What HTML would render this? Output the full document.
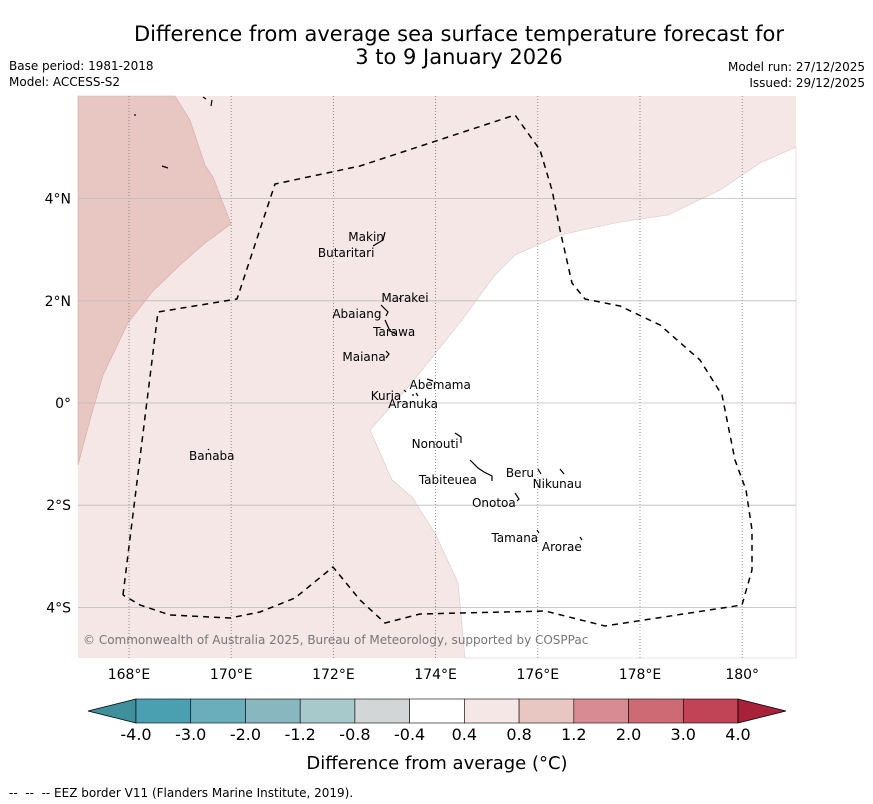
<!DOCTYPE html>
<html><head><meta charset="utf-8"><style>
body{margin:0;background:#fff;width:873px;height:804px;overflow:hidden;font-family:"DejaVu Sans","Liberation Sans",sans-serif}
svg{position:absolute;left:0;top:0}
</style></head><body>
<svg id="c" width="873" height="804" font-family="DejaVu Sans, Liberation Sans, sans-serif">
<text x="459" y="41" text-anchor="middle" font-size="21">Difference from average sea surface temperature forecast for</text>
<text x="459" y="64" text-anchor="middle" font-size="21">3 to 9 January 2026</text>
<text x="9" y="70" font-size="12">Base period: 1981-2018</text>
<text x="9" y="86" font-size="12">Model: ACCESS-S2</text>
<text x="865" y="71" font-size="12" text-anchor="end">Model run: 27/12/2025</text>
<text x="865" y="87" font-size="12" text-anchor="end">Issued: 29/12/2025</text>
<g id="map"></g>
<g id="cb"></g>
<text x="437" y="769" text-anchor="middle" font-size="18">Difference from average (°C)</text>
<text x="9" y="797" font-size="12" xml:space="preserve">--  --  -- EEZ border V11 (Flanders Marine Institute, 2019).</text>
</svg>
<script>
const lonTicks=[168,170,172,174,176,178,180];
const lonLabels=["168°E","170°E","172°E","174°E","176°E","178°E","180°"];
const latTicks=[4,2,0,-2,-4];
const latLabels=["4°N","2°N","0°","2°S","4°S"];
const cbLevels=["-4.0","-3.0","-2.0","-1.2","-0.8","-0.4","0.4","0.8","1.2","2.0","3.0","4.0"];
const cbColors=["#3f8f9c","#4aa0b1","#6aadbb","#88b7c0","#a8c9cc","#d3d6d7","#ffffff","#f4e7e6","#e8c7c2","#d98b93","#cd6a74","#c04455","#a8203a"];
const islands=[["Makin",172.64,3.17],["Butaritari",172.25,2.86],["Marakei",173.40,1.98],["Abaiang",172.46,1.66],["Tarawa",173.19,1.31],["Maiana",172.60,0.82],["Abemama",174.09,0.27],["Kuria",173.03,0.06],["Aranuka",173.56,-0.10],["Nonouti",173.99,-0.88],["Tabiteuea",174.24,-1.59],["Beru",175.65,-1.45],["Nikunau",176.38,-1.66],["Onotoa",175.14,-2.04],["Tamana",175.55,-2.72],["Arorae",176.47,-2.90],["Banaba",169.62,-1.12]];
const NS="http://www.w3.org/2000/svg";
const L=78,R=796,T=96,B=658;
const x=lon=>129+(lon-168)*51.1;
const y=lat=>403-lat*51.1;
function mk(p,t,a){const e=document.createElementNS(NS,t);for(const k in a)e.setAttribute(k,a[k]);p.appendChild(e);return e;}
const map=document.getElementById('map');
let e=mk(map,'rect',{x:L,y:T,width:R-L,height:B-T,fill:'#f4e7e6'});


e=mk(map,'polygon',{points:"465,658 458,583 436,535 412,497 392,480 370,430 410,385 462,320 495,275 515,255 560,235 620,222 668,215 720,190 760,163 796,147 796,658",fill:'#fff',stroke:'#d8c8c6','stroke-width':0.6});


e=mk(map,'polygon',{points:"78,96 175,96 190,120 205,165 213,177 231,224 205,243 180,265 153,291 128,323 103,375 90,420 78,465",fill:'#e8c7c2',stroke:'#d4aaa4','stroke-width':0.6});


lonTicks.forEach((v,i)=>{
 let g=mk(map,'line',{x1:x(v),x2:x(v),y1:T,y2:B,stroke:'#777','stroke-width':0.8,'stroke-dasharray':'1,2'});
 
 
 let t=mk(map,'text',{x:x(v),y:B+21,'text-anchor':'middle','font-size':14});t.textContent=lonLabels[i];
 
 
});
latTicks.forEach((v,i)=>{
 let g=mk(map,'line',{x1:L,x2:R,y1:y(v),y2:y(v),stroke:'#bbb','stroke-width':0.8});
 
 
 let t=mk(map,'text',{x:L-7,y:y(v)+5,'text-anchor':'end','font-size':14});t.textContent=latLabels[i];
 
 
});
e=mk(map,'polyline',{points:"123,595 158,312 237,299 275,184 360,166 515,115 540,150 552,190 560,230 572,283 585,299 620,306 660,325 700,360 722,395 735,460 746,490 752,530 752,570 742,605 605,626 545,611 420,614 385,623 360,600 333,567 295,598 260,612 230,618 170,615 140,605 123,595",fill:'none',stroke:'#000','stroke-width':1.5,'stroke-dasharray':'6,5'});


e=mk(map,'path',{d:"M385,232 L383,240 L373,246 M399,298 l2,2 M381,305 L388,312 L386,316 M385,320 L390,331 L396,334 M386,351 L389,354 L386,358 M427,379 L433,381 M404,390 l2,2 M412,395 l2,0 M416,393 l2,3 M455,433 L461,437 L461,443 M470,460 L478,468 L484,472 L492,476 L492,481 M538,469 L541,474 M560,469 L564,474 M515,493 L519,499 L517,501 M537,530 l2,3 M580,537 l2,3 M208,449 l1,1 M135,114 l0,2 M162,166 L168,168 M203,97 l3,2 M212,100 l-1,6",fill:'none',stroke:'#000','stroke-width':1.2});


islands.forEach(d=>{
 let t=mk(map,'text',{x:x(d[1]),y:y(d[2]),'text-anchor':'middle','font-size':12});t.textContent=d[0];
 
 
});
e=mk(map,'text',{x:83,y:644,'font-size':12,fill:'#777'});e.textContent="© Commonwealth of Australia 2025, Bureau of Meteorology, supported by COSPPac";


const cb=document.getElementById('cb');
const cx0=136,cx1=738,cy=699,ch=24,n=cbLevels.length-1,w=(cx1-cx0)/n;
e=mk(cb,'polygon',{points:`88,${cy+ch/2} ${cx0},${cy} ${cx0},${cy+ch}`,fill:cbColors[0],stroke:'#000','stroke-width':0.8});


for(let i=0;i<n;i++){
 let r=mk(cb,'rect',{x:cx0+i*w,y:cy,width:w,height:ch,fill:cbColors[i+1],stroke:'#000','stroke-width':0.6});
 
 
}
e=mk(cb,'polygon',{points:`${cx1},${cy} 786,${cy+ch/2} ${cx1},${cy+ch}`,fill:cbColors[n+1],stroke:'#000','stroke-width':0.8});


cbLevels.forEach((v,i)=>{
 let t=mk(cb,'text',{x:cx0+i*w,y:740,'text-anchor':'middle','font-size':16});t.textContent=v;
 
 
});
</script>
</body></html>
